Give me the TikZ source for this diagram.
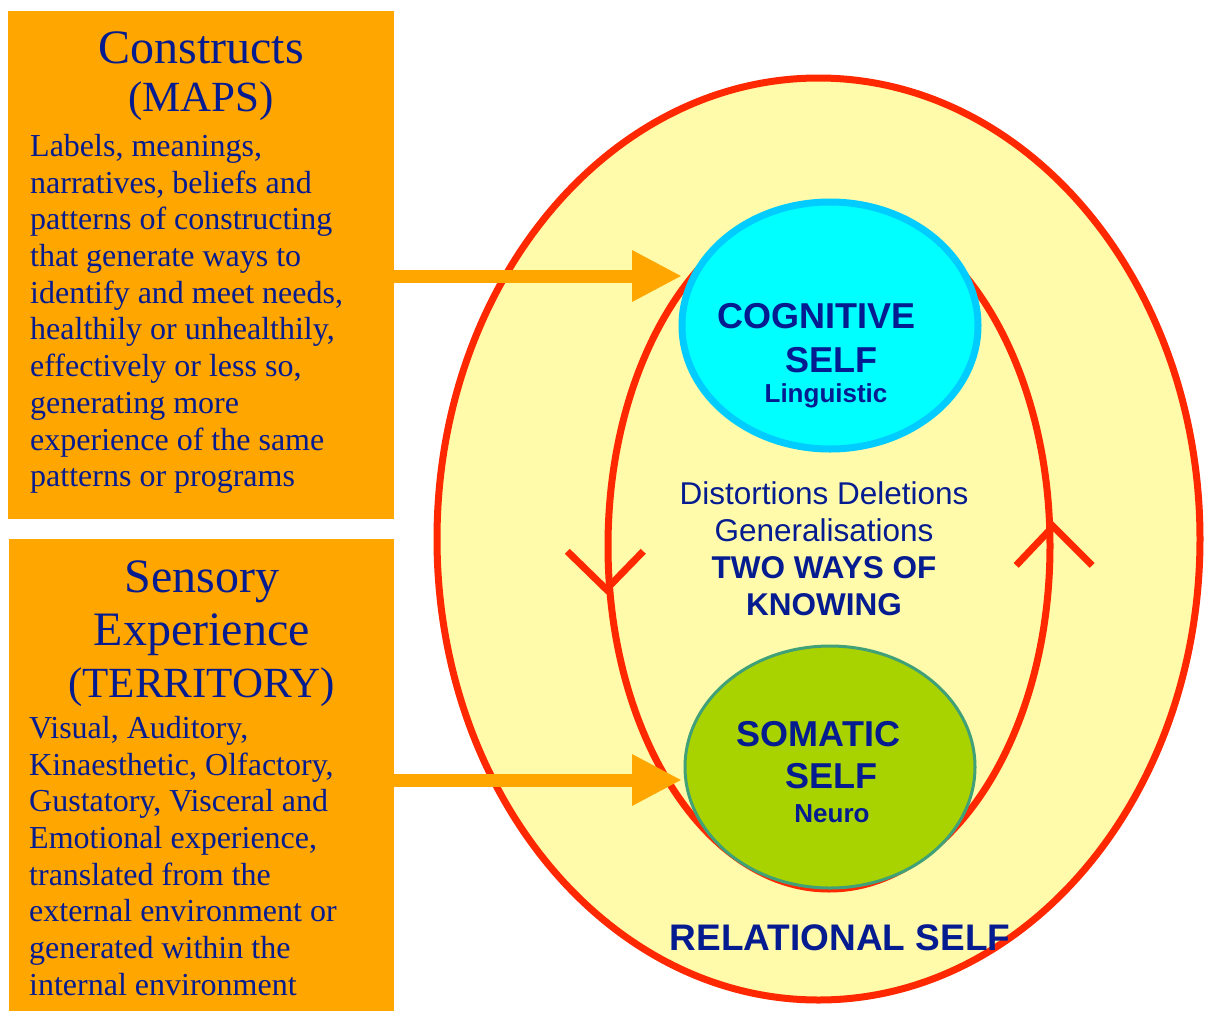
\documentclass[tikz,border=0pt]{standalone}
\usepackage{fontspec}
\setmainfont{Liberation Serif}
\setsansfont{Liberation Sans}
\usetikzlibrary{arrows.meta,positioning,shapes.geometric}

\definecolor{panelorange}{RGB}{255,166,0}
\definecolor{inkblue}{RGB}{5,28,145}
\definecolor{paleyellow}{RGB}{255,251,170}
\definecolor{loopred}{RGB}{255,40,0}
\definecolor{cyanfill}{RGB}{0,255,255}
\definecolor{cyanrim}{RGB}{0,204,255}
\definecolor{limefill}{RGB}{168,210,0}
\definecolor{limerim}{RGB}{64,160,120}

\newcommand{\bigline}{\fontsize{48}{48}\selectfont}
\newcommand{\capline}{\fontsize{43}{48}\selectfont}

\tikzset{
  panel/.style={fill=panelorange, inner sep=0pt, anchor=north west},
  heading/.style={text=inkblue, inner sep=0pt, align=center},
  blurb/.style={text=inkblue, inner sep=0pt, align=left, font=\fontsize{32}{36.7}\selectfont},
  self/.style={ellipse, inner sep=0pt},
  caption/.style={text=inkblue, inner sep=0pt, align=center},
  feed/.style={draw=panelorange, line width=13pt, -{Triangle[length=50pt,width=48pt]}},
  turn/.style={draw=loopred, line width=7pt}
}

\begin{document}
\begin{tikzpicture}[x=1pt,y=-1pt]
\useasboundingbox (0,0) rectangle (1205,1010);

% the selves
\node[self, fill=paleyellow, draw=loopred, line width=7pt,
      minimum width=763pt, minimum height=922pt] (relational) at (818.5,539) {};
\node[self, draw=loopred, line width=7pt,
      minimum width=442pt, minimum height=686pt] (knowing) at (829,546) {};
\node[self, fill=cyanfill, draw=cyanrim, line width=7pt,
      minimum width=296pt, minimum height=247pt] (cognitive) at (830,325.5) {};
\node[self, fill=limefill, draw=limerim, line width=3pt,
      minimum width=290pt, minimum height=242pt] (somatic) at (830,767) {};

% direction of the loop
\draw[turn] ([shift={(-39,-38)}]knowing.191) -- (knowing.191) -- ([shift={(37,-38)}]knowing.191);
\draw[turn] ([shift={(-37,39)}]knowing.5) -- (knowing.5) -- ([shift={(39,39)}]knowing.5);

% left panels
\node[panel, minimum width=386pt, minimum height=508pt] (maps) at (8,11) {};
\node[panel, minimum width=385pt, minimum height=480pt] (territory) at (9,539) {};

\node[heading, font=\fontsize{46}{48}\selectfont, below=21pt of maps.north] (maps title)
  {{\bigline Constructs}\\{\capline (MAPS)}};
\node[blurb, below right=123pt and 22pt of maps.north west] (maps text)
  {Labels, meanings,\\narratives, beliefs and\\patterns of constructing\\that generate ways to\\identify and meet needs,\\healthily or unhealthily,\\effectively or less so,\\generating more\\experience of the same\\patterns or programs};

\node[heading, font=\fontsize{46}{52.5}\selectfont, below=22pt of territory.north] (territory title)
  {{\bigline Sensory}\\{\bigline Experience}\\{\capline (TERRITORY)}};
\node[blurb, below right=177pt and 20pt of territory.north west] (territory text)
  {Visual, Auditory,\\Kinaesthetic, Olfactory,\\Gustatory, Visceral and\\Emotional experience,\\translated from the\\external environment or\\generated within the\\internal environment};

% inputs
\coordinate (maps tip) at (682,276);
\coordinate (territory tip) at (682,780);
\draw[feed] (maps.east |- maps tip) -- (maps tip);
\draw[feed] (territory.east |- territory tip) -- (territory tip);

% texts
\node[caption, font=\sffamily\bfseries\fontsize{36}{44}\selectfont, anchor=north] (cognitive text) at (816.5,303)
  {COGNITIVE\\\hspace*{29pt}SELF\\[-14pt]{\fontsize{26}{30}\selectfont\hspace*{19pt}Linguistic}};
\node[caption, font=\sffamily\fontsize{31.5}{37}\selectfont, anchor=north] (filters) at (824,481)
  {Distortions Deletions\\Generalisations\\\textbf{TWO WAYS OF}\\\textbf{KNOWING}};
\node[caption, font=\sffamily\bfseries\fontsize{36}{42}\selectfont, anchor=north] (somatic text) at (818.5,721)
  {SOMATIC\\\hspace*{25pt}SELF\\[-8pt]{\fontsize{26}{30}\selectfont\hspace*{27pt}Neuro}};
\node[caption, font=\sffamily\bfseries\fontsize{37}{40}\selectfont, anchor=base] (relational text) at (840,950)
  {RELATIONAL SELF};
\end{tikzpicture}
\end{document}
